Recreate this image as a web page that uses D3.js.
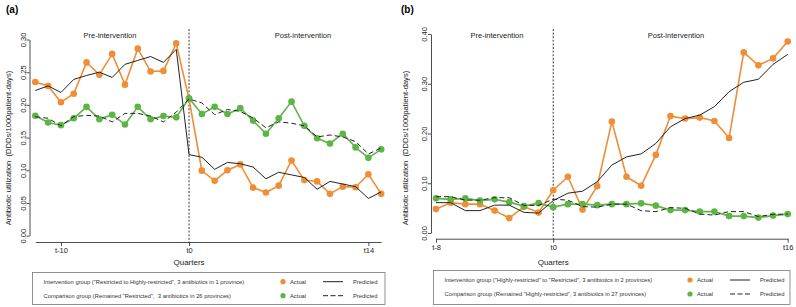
<!DOCTYPE html>
<html>
<head>
<meta charset="utf-8">
<script src="https://cdn.jsdelivr.net/npm/d3@7"></script>
<style>
body { margin: 0; background: #fff; }
svg { display: block; font-family: "Liberation Sans", Arial, sans-serif; }
</style>
</head>
<body>
<script>
// ---- panel (a) data ----
const quartersA = [-12, -11, -10, -9, -8, -7, -6, -5, -4, -3, -2, -1, 0,
  1, 2, 3, 4, 5, 6, 7, 8, 9, 10, 11, 12, 13, 14, 15];
const actualIntA = [0.235, 0.229, 0.204, 0.217, 0.265, 0.246, 0.278, 0.231, 0.286, 0.251, 0.252, 0.294, 0.209,
  0.0995, 0.084, 0.100, 0.109, 0.0735, 0.066, 0.0765, 0.115, 0.085, 0.083, 0.064, 0.075, 0.074, 0.094, 0.064];
const predIntA = [0.222, 0.229, 0.219, 0.239, 0.245, 0.250, 0.242, 0.262, 0.268, 0.274, 0.265, 0.285, 0.124,
  0.120, 0.1015, 0.112, 0.110, 0.105, 0.087, 0.097, 0.093, 0.089, 0.071, 0.083, 0.079, 0.075, 0.057, 0.067];
const actualCmpA = [0.1835, 0.173, 0.169, 0.1795, 0.197, 0.178, 0.185, 0.170, 0.197, 0.178, 0.183, 0.181, 0.210,
  0.186, 0.197, 0.186, 0.195, 0.176, 0.156, 0.1795, 0.205, 0.168, 0.149, 0.141, 0.156, 0.135, 0.119, 0.132];
const predCmpA = [0.182, 0.1795, 0.168, 0.182, 0.184, 0.183, 0.174, 0.187, 0.187, 0.183, 0.174, 0.189, 0.209,
  0.203, 0.185, 0.193, 0.190, 0.180, 0.165, 0.174, 0.172, 0.168, 0.151, 0.154, 0.151, 0.144, 0.125, 0.134];
const xTicksA = [-10, 0, 14];
const xTickLabelsA = ["t-10", "t0", "t14"];
const yTicksA = [0, 0.05, 0.10, 0.15, 0.20, 0.25, 0.30];
const legendA = [
  "Intervention group (\"Restricted to Highly-restricted\", 3 antibiotics in 1 province)",
  "Comparison group (Remained \"Restricted\",  3 antibiotics in 26 provinces)"
];

// ---- panel (b) data ----
const quartersB = [-8, -7, -6, -5, -4, -3, -2, -1, 0,
  1, 2, 3, 4, 5, 6, 7, 8, 9, 10, 11, 12, 13, 14, 15, 16];
const actualIntB = [0.048, 0.061, 0.058, 0.058, 0.045, 0.030, 0.053, 0.041, 0.086,
  0.113, 0.047, 0.094, 0.224, 0.113, 0.095, 0.157, 0.235, 0.230, 0.232, 0.225, 0.191, 0.363, 0.337, 0.351, 0.385];
const predIntB = [0.061, 0.061, 0.045, 0.045, 0.056, 0.056, 0.0415, 0.040, 0.065,
  0.080, 0.084, 0.103, 0.1365, 0.153, 0.159, 0.180, 0.2135, 0.230, 0.237, 0.254, 0.284, 0.303, 0.309, 0.339, 0.359];
const actualCmpB = [0.0696, 0.0676, 0.0696, 0.065, 0.0676, 0.062, 0.054, 0.060, 0.052,
  0.058, 0.058, 0.056, 0.058, 0.058, 0.0596, 0.055, 0.046, 0.046, 0.043, 0.043, 0.034, 0.034, 0.031, 0.035, 0.038];
const predCmpB = [0.073, 0.073, 0.066, 0.066, 0.071, 0.071, 0.0555, 0.0555, 0.068,
  0.066, 0.053, 0.052, 0.058, 0.058, 0.045, 0.043, 0.051, 0.0496, 0.038, 0.036, 0.043, 0.043, 0.033, 0.0375, 0.038];
const xTicksB = [-8, 0, 16];
const xTickLabelsB = ["t-8", "t0", "t16"];
const yTicksB = [0, 0.10, 0.20, 0.30, 0.40];
const legendB = [
  "Intervention group (\"Highly-restricted\" to \"Restricted\", 3 antibiotics in 2 provinces)",
  "Comparison group (Remained \"Highly-restricted\", 3 antibiotics in 27 provinces)"
];

const orange = "#ef8e36";
const green = "#5db545";
const ink = "#222";

const svg = d3.select("body").append("svg")
  .attr("width", 796)
  .attr("height", 307);

function drawPanel(p) {
  const g = svg.append("g");

  const x = d3.scaleLinear().domain(p.xDomain).range(p.xRange);
  const y = d3.scaleLinear().domain(p.yDomain).range(p.yRange);

  // panel letter
  g.append("text")
    .attr("x", p.letterX).attr("y", 13)
    .attr("font-size", 10).attr("font-weight", "bold")
    .text(p.letter);

  // y axis, labels rotated like R
  const yAxis = g.append("g")
    .attr("transform", `translate(${p.yAxisX},0)`)
    .call(d3.axisLeft(y).tickValues(p.yTicks).tickSize(3).tickSizeOuter(0).tickFormat(d3.format(".2f")));
  yAxis.selectAll("text")
    .attr("transform", "rotate(-90)")
    .attr("x", 0).attr("y", -4).attr("dy", 0)
    .attr("text-anchor", "middle")
    .attr("font-size", 7.5).attr("fill", ink);
  yAxis.selectAll("line, path").attr("stroke", ink).attr("stroke-width", 0.8);

  // x axis
  const xAxis = g.append("g")
    .attr("transform", `translate(0,${p.xAxisY})`)
    .call(d3.axisBottom(x).tickValues(p.xTicks).tickSize(4).tickSizeOuter(0)
      .tickFormat((d, i) => p.xTickLabels[i]));
  xAxis.selectAll("text").attr("font-size", 7.5).attr("fill", ink).attr("dy", "0.55em");
  xAxis.selectAll("line, path").attr("stroke", ink).attr("stroke-width", 0.8);

  // axis titles
  g.append("text")
    .attr("transform", `translate(${p.yTitleX},${p.yTitleY}) rotate(-90)`)
    .attr("text-anchor", "middle").attr("font-size", 7.6).attr("fill", ink)
    .attr("xml:space", "preserve")
    .text("Antibiotic utilization  (DDDs/1000patient-days)");
  g.append("text")
    .attr("x", x(0)).attr("y", 265)
    .attr("text-anchor", "middle").attr("font-size", 8).attr("fill", ink)
    .text("Quarters");

  // intervention line
  g.append("line")
    .attr("x1", x(0)).attr("x2", x(0))
    .attr("y1", 29).attr("y2", p.xAxisY)
    .attr("stroke", ink).attr("stroke-width", 0.9)
    .attr("stroke-dasharray", "2,1.6");

  g.append("text")
    .attr("x", p.preX).attr("y", 38)
    .attr("text-anchor", "middle").attr("font-size", 7.5).attr("fill", ink)
    .text("Pre-intervention");
  g.append("text")
    .attr("x", p.postX).attr("y", 38)
    .attr("text-anchor", "middle").attr("font-size", 7.5).attr("fill", ink)
    .text("Post-intervention");

  const line = d3.line()
    .x(d => x(d[0]))
    .y(d => y(d[1]));

  const series = [
    { vals: p.actualInt, color: orange },
    { vals: p.actualCmp, color: green }
  ];
  series.forEach(s => {
    const pts = p.quarters.map((q, i) => [q, s.vals[i]]);
    g.append("path")
      .attr("d", line(pts))
      .attr("fill", "none").attr("stroke", s.color).attr("stroke-width", 1.6);
    g.selectAll(null).data(pts).enter().append("circle")
      .attr("cx", d => x(d[0])).attr("cy", d => y(d[1]))
      .attr("r", 3.3).attr("fill", s.color);
  });

  g.append("path")
    .attr("d", line(p.quarters.map((q, i) => [q, p.predInt[i]])))
    .attr("fill", "none").attr("stroke", ink).attr("stroke-width", 1);
  g.append("path")
    .attr("d", line(p.quarters.map((q, i) => [q, p.predCmp[i]])))
    .attr("fill", "none").attr("stroke", ink).attr("stroke-width", 1)
    .attr("stroke-dasharray", "5,3");

  // legend
  const L = p.legend;
  const fs = 5.8;
  g.append("rect")
    .attr("x", L.x0).attr("y", L.y0)
    .attr("width", L.x1 - L.x0).attr("height", L.y1 - L.y0)
    .attr("fill", "none").attr("stroke", "#777").attr("stroke-width", 0.8);
  p.legendText.forEach((t, i) => {
    const ly = L.rows[i];
    g.append("text")
      .attr("x", L.textX).attr("y", ly).attr("dy", "0.35em")
      .attr("font-size", fs).attr("fill", "#333")
      .attr("xml:space", "preserve")
      .text(t);
    g.append("circle")
      .attr("cx", L.dotX).attr("cy", ly).attr("r", 2.6)
      .attr("fill", i === 0 ? orange : green);
    g.append("text")
      .attr("x", L.dotX + 7).attr("y", ly).attr("dy", "0.35em")
      .attr("font-size", fs).attr("fill", "#333").text("Actual");
    g.append("line")
      .attr("x1", L.lineX).attr("x2", L.lineX + 20)
      .attr("y1", ly).attr("y2", ly)
      .attr("stroke", ink).attr("stroke-width", 1)
      .attr("stroke-dasharray", i === 0 ? null : "5,2.5");
    g.append("text")
      .attr("x", L.lineX + 30).attr("y", ly).attr("dy", "0.35em")
      .attr("font-size", fs).attr("fill", "#333").text("Predicted");
  });
}

drawPanel({
  letter: "(a)", letterX: 6,
  quarters: quartersA,
  actualInt: actualIntA, predInt: predIntA,
  actualCmp: actualCmpA, predCmp: predCmpA,
  xDomain: [-12, 15], xRange: [35.3, 381.2],
  yDomain: [0, 0.30], yRange: [235.7, 39.5],
  xTicks: xTicksA, xTickLabels: xTickLabelsA, yTicks: yTicksA,
  yAxisX: 29.5, xAxisY: 242,
  yTitleX: 11, yTitleY: 148,
  preX: 110, postX: 303,
  legendText: legendA,
  legend: { x0: 32.5, x1: 385, y0: 272.5, y1: 304.5, rows: [281.7, 295.7],
    textX: 43.5, dotX: 283, lineX: 323 }
});

drawPanel({
  letter: "(b)", letterX: 401,
  quarters: quartersB,
  actualInt: actualIntB, predInt: predIntB,
  actualCmp: actualCmpB, predCmp: predCmpB,
  xDomain: [-8, 16], xRange: [436, 787.7],
  yDomain: [0, 0.40], yRange: [233, 34],
  xTicks: xTicksB, xTickLabels: xTickLabelsB, yTicks: yTicksB,
  yAxisX: 431, xAxisY: 238.7,
  yTitleX: 408, yTitleY: 148,
  preX: 497, postX: 676,
  legendText: legendB,
  legend: { x0: 433.5, x1: 790, y0: 270.5, y1: 304.5, rows: [280, 294],
    textX: 444.5, dotX: 690, lineX: 730 }
});
</script>
</body>
</html>
